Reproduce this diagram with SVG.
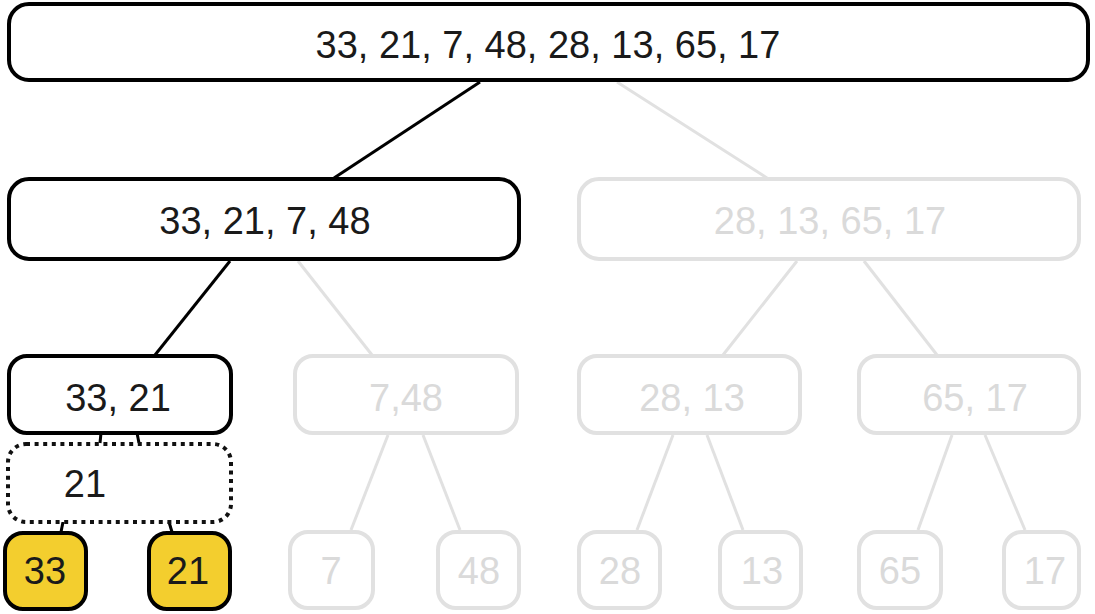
<svg xmlns="http://www.w3.org/2000/svg" width="1095" height="614" viewBox="0 0 1095 614">
<style>
.on{fill:#fff;stroke:#000;stroke-width:4}
.off{fill:#fff;stroke:#e1e1e1;stroke-width:4}
.dot{fill:#fff;stroke:#111;stroke-width:4;stroke-dasharray:4 4.6}
.hi{fill:#f3ce2e;stroke:#000;stroke-width:4}
text{font-family:"Helvetica Neue","Liberation Sans",Arial,sans-serif;font-size:38px;text-anchor:middle}
.t{fill:#1a1a1a}
.tg{fill:#dadada}
.lk{stroke:#000;stroke-width:3;fill:none}
.lg{stroke:#e1e1e1;stroke-width:3;fill:none}
</style>
<g id="connectors">
<line class="lk" x1="480" y1="82" x2="334" y2="178"/>
<line class="lg" x1="617" y1="82" x2="767" y2="178"/>
<line class="lk" x1="230" y1="261" x2="155" y2="355"/>
<line class="lg" x1="298" y1="261" x2="372" y2="355"/>
<line class="lg" x1="797" y1="261" x2="723" y2="355"/>
<line class="lg" x1="864" y1="261" x2="937" y2="355"/>
<line class="lk" x1="101" y1="433" x2="100" y2="443"/>
<line class="lk" x1="137" y1="433" x2="139" y2="443"/>
<line class="lk" x1="63" y1="522" x2="61" y2="532"/>
<line class="lk" x1="169" y1="522" x2="172" y2="532"/>
<line class="lg" x1="388" y1="435" x2="351" y2="530"/>
<line class="lg" x1="423" y1="435" x2="460" y2="530"/>
<line class="lg" x1="673" y1="435" x2="637" y2="530"/>
<line class="lg" x1="707" y1="435" x2="743" y2="530"/>
<line class="lg" x1="952" y1="435" x2="918" y2="530"/>
<line class="lg" x1="985" y1="435" x2="1025" y2="530"/>
</g>
<g id="n-root"><rect class="on" x="9" y="4" width="1079" height="76" rx="20"/><text class="t" x="548" y="58">33, 21, 7, 48, 28, 13, 65, 17</text></g>
<g id="n-l"><rect class="on" x="9" y="179" width="510" height="80" rx="20"/><text class="t" x="265" y="234">33, 21, 7, 48</text></g>
<g id="n-r"><rect class="off" x="579" y="179" width="500" height="80" rx="20"/><text class="tg" x="830" y="234">28, 13, 65, 17</text></g>
<g id="n-ll"><rect class="on" x="9" y="356" width="222" height="77" rx="18"/><text class="t" x="118" y="411">33, 21</text></g>
<g id="n-lr"><rect class="off" x="295" y="356" width="222" height="77" rx="18"/><text class="tg" x="406" y="411">7,48</text></g>
<g id="n-rl"><rect class="off" x="579" y="356" width="221" height="77" rx="18"/><text class="tg" x="692" y="411">28, 13</text></g>
<g id="n-rr"><rect class="off" x="859" y="356" width="220" height="77" rx="18"/><text class="tg" x="975" y="411">65, 17</text></g>
<g id="n-merge"><rect class="dot" x="8" y="444" width="223" height="78" rx="18"/><text class="t" x="85" y="497">21</text></g>
<g id="n-33"><rect class="hi" x="5" y="533" width="81" height="76" rx="18"/><text class="t" x="45" y="584">33</text></g>
<g id="n-21"><rect class="hi" x="149" y="533" width="81" height="76" rx="18"/><text class="t" x="188" y="584">21</text></g>
<g id="n-7"><rect class="off" x="290" y="532" width="83" height="76" rx="18"/><text class="tg" x="331" y="584">7</text></g>
<g id="n-48"><rect class="off" x="438" y="532" width="81" height="76" rx="18"/><text class="tg" x="479" y="584">48</text></g>
<g id="n-28"><rect class="off" x="579" y="532" width="81" height="76" rx="18"/><text class="tg" x="620" y="584">28</text></g>
<g id="n-13"><rect class="off" x="720" y="532" width="81" height="76" rx="18"/><text class="tg" x="762" y="584">13</text></g>
<g id="n-65"><rect class="off" x="859" y="532" width="82" height="76" rx="18"/><text class="tg" x="900" y="584">65</text></g>
<g id="n-17"><rect class="off" x="1004" y="532" width="75" height="76" rx="18"/><text class="tg" x="1045" y="584">17</text></g>
</svg>
